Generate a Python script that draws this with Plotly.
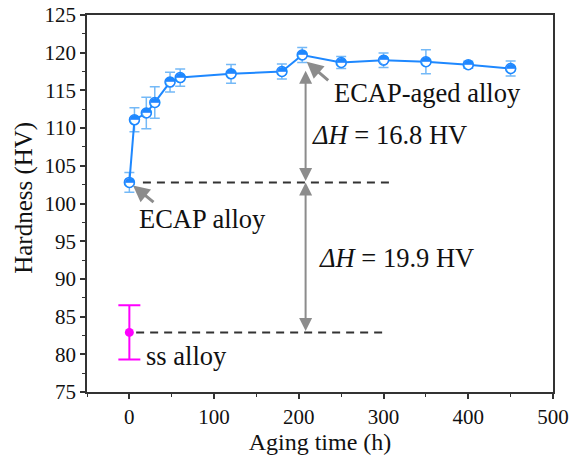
import plotly.graph_objects as go

# ---- data ----
aging_time = [0, 6, 20, 30, 48, 60, 120, 180, 204, 250, 300, 350, 400, 450]
hardness = [102.8, 111.1, 112.0, 113.4, 116.1, 116.7, 117.2, 117.5, 119.7, 118.7, 119.0, 118.8, 118.4, 117.9]
hardness_err = [1.3, 1.6, 2.1, 2.1, 1.3, 1.15, 1.25, 1.0, 1.0, 0.8, 0.95, 1.6, 0.45, 1.0]

ss_time = [0]
ss_hardness = [82.9]
ss_err = [3.6]

ecap_level = 102.8
ss_level = 82.9
dash_ecap_x = [16, 312]
dash_ss_x = [8, 304]
arrow_x = 208
arrow_top = 117.6

labels = ["ECAP-aged alloy", "<i>ΔH</i> = 16.8 HV", "ECAP alloy", "<i>ΔH</i> = 19.9 HV", "ss alloy"]
label_x = [239, 213, 9, 222, 17]
label_y = [114.6, 109.1, 97.9, 92.8, 79.8]

BLUE = "#1E88FF"
EBLUE = "#74B9F7"
GRAY = "#8C8C8C"
FONT = "'Liberation Serif', 'Times New Roman', Times, serif"

fig = go.Figure()

fig.add_trace(go.Scatter(
    x=aging_time, y=hardness, mode="lines",
    line=dict(color=BLUE, width=2),
    error_y=dict(type="data", array=hardness_err, color=EBLUE, thickness=1.5, width=5),
    showlegend=False, hoverinfo="skip"))
fig.add_trace(go.Scatter(
    x=aging_time, y=hardness, mode="markers",
    marker=dict(symbol="circle", size=10, color="white", line=dict(color=BLUE, width=1.5)),
    showlegend=False))
fig.add_trace(go.Scatter(
    x=aging_time, y=hardness, mode="text", text=["◓"] * len(aging_time),
    textposition="middle center",
    textfont=dict(family="DejaVu Sans", size=13, color=BLUE),
    showlegend=False, hoverinfo="skip"))

fig.add_trace(go.Scatter(
    x=ss_time, y=ss_hardness, mode="markers",
    marker=dict(symbol="circle", size=9, color="#FF00FF"),
    error_y=dict(type="data", array=ss_err, color="#FF00FF", thickness=2, width=11),
    showlegend=False))

# dashed reference lines
fig.add_trace(go.Scatter(x=dash_ecap_x, y=[ecap_level] * 2, mode="lines",
                         line=dict(color="#333333", width=2, dash="8px,6px"),
                         showlegend=False, hoverinfo="skip"))
fig.add_trace(go.Scatter(x=dash_ss_x, y=[ss_level] * 2, mode="lines",
                         line=dict(color="#333333", width=2, dash="8px,6px"),
                         showlegend=False, hoverinfo="skip"))

anns = []
# vertical double arrows
for y0, y1 in [(ecap_level, arrow_top), (ss_level, ecap_level)]:
    anns.append(dict(x=arrow_x, y=y1, ax=arrow_x, ay=y0, xref="x", yref="y",
                     axref="x", ayref="y", text="", showarrow=True,
                     arrowside="end+start", arrowhead=2, arrowsize=1.3,
                     arrowwidth=2, arrowcolor=GRAY, standoff=0, startstandoff=0))
# pointer arrows
anns.append(dict(x=4.3, y=102.4, ax=22, ay=18, xref="x", yref="y", text="",
                 showarrow=True, arrowhead=2, arrowsize=1.1, arrowwidth=3,
                 arrowcolor=GRAY, standoff=0))
anns.append(dict(x=209.3, y=118.8, ax=23, ay=20, xref="x", yref="y", text="",
                 showarrow=True, arrowhead=2, arrowsize=1.1, arrowwidth=3,
                 arrowcolor=GRAY, standoff=0))
for t, lx, ly in zip(labels, label_x, label_y):
    anns.append(dict(x=lx, y=ly, xref="x", yref="y", text=t, showarrow=False,
                     xanchor="left", yanchor="middle",
                     font=dict(family=FONT, size=26.5, color="#111111")))
# y-axis title, placed by pixel offset from the plot's left edge
anns.append(dict(x=0, y=0.515, xref="paper", yref="paper", xshift=-63,
                 text="Hardness (HV)", showarrow=False, textangle=-90,
                 xanchor="center", yanchor="middle",
                 font=dict(family=FONT, size=25, color="#111111")))

fig.update_layout(
    width=569, height=457,
    margin=dict(l=87, r=16, t=15, b=65, autoexpand=False),
    paper_bgcolor="white", plot_bgcolor="white",
    font=dict(family=FONT, size=21, color="#111111"),
    annotations=anns,
)

axis_common = dict(showline=True, mirror=True, linecolor="#333333", linewidth=1.5,
                   ticks="outside", ticklen=5, tickwidth=1.5, tickcolor="#333333",
                   showgrid=False, zeroline=False, automargin=False,
                   tickfont=dict(family=FONT, size=21, color="#111111"))
fig.update_xaxes(range=[-50, 500], dtick=100, tick0=0,
                 minor=dict(ticks="outside", ticklen=3, dtick=50, tickcolor="#333333", tickwidth=1.2),
                 title=dict(text="Aging time (h)", font=dict(family=FONT, size=24), standoff=3),
                 **axis_common)
fig.update_yaxes(range=[75, 125], dtick=5, tick0=75,
                 minor=dict(ticks="outside", ticklen=3, dtick=2.5, tickcolor="#333333", tickwidth=1.2),
                 **axis_common)

fig.write_html("out.html")
